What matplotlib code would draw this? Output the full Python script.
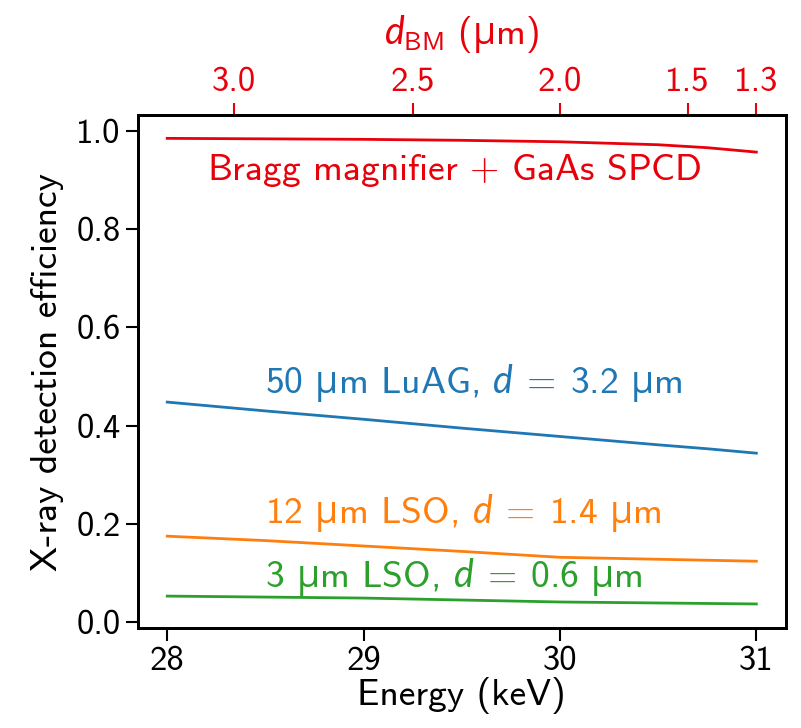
import numpy as np
import matplotlib
matplotlib.use("Agg")
import matplotlib.pyplot as plt

plt.rcParams['font.family'] = ['cmss10', 'DejaVu Sans']
plt.rcParams['axes.unicode_minus'] = False
plt.rcParams['mathtext.fontset'] = 'custom'
plt.rcParams['mathtext.rm'] = 'cmss10'
plt.rcParams['mathtext.it'] = 'Lato:italic'
plt.rcParams['mathtext.bf'] = 'cmss10'
plt.rcParams['mathtext.sf'] = 'Open Sans'

energy = [28.0, 28.5, 29.0, 29.5, 30.0, 30.5, 30.75, 31.0]
bragg_gaas = [0.985, 0.984, 0.983, 0.981, 0.978, 0.972, 0.966, 0.957]
luag_50 = [0.448, 0.430, 0.413, 0.395, 0.378, 0.361, 0.353, 0.344]
lso_12 = [0.175, 0.166, 0.155, 0.144, 0.132, 0.128, 0.126, 0.124]
lso_3 = [0.053, 0.051, 0.049, 0.045, 0.041, 0.039, 0.038, 0.037]

dbm_ticklabels = ["3.0", "2.5", "2.0", "1.5", "1.3"]
dbm_tick_energy = [28.34, 29.25, 30.0, 30.65, 31.0]

MU = r"$\mathsf{\mu}$"
labels = [r"Bragg magnifier $+$ GaAs SPCD",
          "50 " + MU + r"m LuAG, $d\;=\;3.2$ " + MU + "m",
          "12 " + MU + r"m LSO, $d\;=\;1.4$ " + MU + "m",
          "3 " + MU + r"m LSO, $d\;=\;0.6$ " + MU + "m"]

red = '#e8000b'
colors = [red, '#1f77b4', '#ff7f0e', '#2ca02c']
series = [bragg_gaas, luag_50, lso_12, lso_3]

fig = plt.figure(figsize=(8.01, 7.28), dpi=100)
ax = fig.add_axes([0.172, 0.137, 0.809, 0.705])

for s, c in zip(series, colors):
    ax.plot(energy, s, color=c, lw=2.0)

fs = 27
tfs = 25
ax.text(28.2, 0.92, labels[0], color=colors[0], fontsize=fs, va='center', ha='left')
ax.text(28.5, 0.487, labels[1], color=colors[1], fontsize=fs, va='center', ha='left')
ax.text(28.5, 0.222, labels[2], color=colors[2], fontsize=fs, va='center', ha='left')
ax.text(28.5, 0.092, labels[3], color=colors[3], fontsize=fs, va='center', ha='left')

ax.set_xlim(27.85, 31.15)
ax.set_ylim(-0.0125, 1.0325)
ax.set_xticks([28, 29, 30, 31])
ax.set_yticks([0.0, 0.2, 0.4, 0.6, 0.8, 1.0])
ax.set_yticklabels(["0.0", "0.2", "0.4", "0.6", "0.8", "1.0"])
ax.tick_params(labelsize=tfs, length=9, width=1.5, direction='out')
ax.set_xlabel("Energy (keV)", fontsize=fs, labelpad=0)
ax.set_ylabel("X-ray detection efficiency", fontsize=fs, labelpad=9)
for sp in ax.spines.values():
    sp.set_linewidth(2.0)

top = ax.twiny()
top.set_xlim(ax.get_xlim())
top.set_xticks(dbm_tick_energy)
top.set_xticklabels(dbm_ticklabels)
top.tick_params(axis='x', colors=red, labelsize=tfs, length=9, width=1.5)
top.set_xlabel(r"$d_{\mathrm{BM}}$ (" + MU + "m)", color=red, fontsize=fs, labelpad=16)
for sp in top.spines.values():
    sp.set_linewidth(2.0)

fig.savefig("out.png", dpi=100)
